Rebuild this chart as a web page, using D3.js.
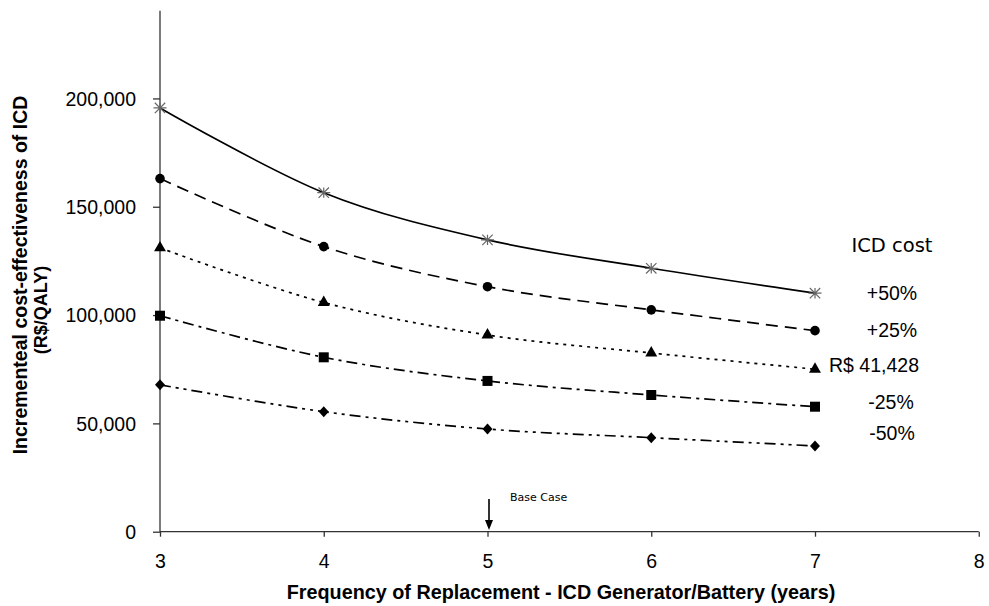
<!DOCTYPE html>
<html>
<head>
<meta charset="utf-8">
<script src="https://cdn.jsdelivr.net/npm/d3@7"></script>
<style>
  html, body { margin: 0; padding: 0; background: #fff; }
  svg { display: block; }
  .tick text { font-family: "Liberation Sans", Arial, sans-serif; font-size: 19.5px; fill: #000; }
</style>
</head>
<body>
<svg id="chart" width="989" height="606"></svg>
<script>
// ---- data ----
const years = [3, 4, 5, 6, 7];
const plus50 = [195600, 156500, 134700, 121600, 110100];
const plus25 = [163000, 131600, 113100, 102400, 92800];
const baseCost = [131000, 105800, 90800, 82500, 75000];
const minus25 = [99700, 80500, 69600, 63100, 57700];
const minus50 = [67800, 55400, 47400, 43400, 39600];
const seriesNames = ["+50%", "+25%", "R$ 41,428", "-25%", "-50%"];
const xTicks = [3, 4, 5, 6, 7, 8];
const yTicks = [0, 50000, 100000, 150000, 200000];
const legendTitle = "ICD cost";
const baseCaseLabel = "Base Case";
const baseCaseYear = 5;

const series = [
  { name: seriesNames[0], values: plus50, dash: null, marker: "asterisk" },
  { name: seriesNames[1], values: plus25, dash: "12,7", marker: "circle" },
  { name: seriesNames[2], values: baseCost, dash: "3,5", marker: "triangle" },
  { name: seriesNames[3], values: minus25, dash: "11,5,3,5", marker: "square" },
  { name: seriesNames[4], values: minus50, dash: "11,5,3,5,3,5", marker: "diamond" }
];

const svg = d3.select("#chart");
const x = d3.scaleLinear().domain([3, 8]).range([160, 978.75]);
const y = d3.scaleLinear().domain([0, 240500]).range([531.7, 10.7]);

// axes
const fmt = d3.format(",");
const yAxis = d3.axisLeft(y).tickValues(yTicks).tickFormat(fmt).tickSize(7).tickPadding(17);
const gy = svg.append("g").attr("transform", "translate(160,0)").call(yAxis);
gy.select(".domain").attr("d", `M0,${y(0)}V${y.range()[1]}`).attr("stroke", "#333").attr("stroke-width", 1.3);
gy.selectAll(".tick line").attr("stroke", "#333").attr("stroke-width", 1.3);
gy.selectAll(".tick text").attr("dy", "0.35em");

const xAxis = d3.axisBottom(x).tickValues(xTicks).tickFormat(d3.format("d")).tickSize(5).tickPadding(17);
const gx = svg.append("g").attr("transform", `translate(0,${y(0)})`).call(xAxis);
gx.select(".domain").attr("d", `M${x(3)},0H${x(8)}`).attr("stroke", "#333").attr("stroke-width", 1.3);
gx.selectAll(".tick line").attr("stroke", "#333").attr("stroke-width", 1.3);

// axis titles
const titleFont = "Liberation Sans, Arial, sans-serif";
svg.append("text")
  .attr("transform", "translate(27,275) rotate(-90)")
  .attr("text-anchor", "middle")
  .style("font-family", titleFont)
  .style("font-weight", "bold").style("font-size", "19.5px")
  .text("Incrementeal cost-effectiveness of ICD");
svg.append("text")
  .attr("transform", "translate(47,310) rotate(-90)")
  .attr("text-anchor", "middle")
  .style("font-family", titleFont)
  .style("font-weight", "bold").style("font-size", "18px")
  .text("(R$/QALY)");
svg.append("text")
  .attr("x", 561).attr("y", 599)
  .attr("text-anchor", "middle")
  .style("font-family", titleFont)
  .style("font-weight", "bold").style("font-size", "19.8px")
  .text("Frequency of Replacement - ICD Generator/Battery (years)");

// lines
const line = d3.line()
  .x((d, i) => x(years[i]))
  .y(d => y(d))
  .curve(d3.curveCardinal.tension(0));

series.forEach(s => {
  svg.append("path")
    .attr("d", line(s.values))
    .attr("fill", "none")
    .attr("stroke", "#000")
    .attr("stroke-width", 1.7)
    .attr("stroke-dasharray", s.dash);
});

// markers
function drawMarker(g, type, cx, cy) {
  if (type === "asterisk") {
    const r = 6.5;
    const p = d3.path();
    p.moveTo(cx - r, cy); p.lineTo(cx + r, cy);
    p.moveTo(cx - r * 0.8, cy - r * 0.8); p.lineTo(cx + r * 0.8, cy + r * 0.8);
    p.moveTo(cx - r * 0.8, cy + r * 0.8); p.lineTo(cx + r * 0.8, cy - r * 0.8);
    p.moveTo(cx, cy - r * 0.8); p.lineTo(cx, cy + r * 0.8);
    g.append("path").attr("d", p.toString()).attr("stroke", "#666").attr("stroke-width", 1.2).attr("fill", "none");
  } else if (type === "circle") {
    g.append("circle").attr("cx", cx).attr("cy", cy).attr("r", 4.8).attr("fill", "#000");
  } else if (type === "triangle") {
    g.append("path").attr("d", d3.symbol(d3.symbolTriangle, 62)()).attr("transform", `translate(${cx},${cy})`).attr("fill", "#000");
  } else if (type === "square") {
    g.append("rect").attr("x", cx - 5).attr("y", cy - 5).attr("width", 10).attr("height", 10).attr("fill", "#000");
  } else if (type === "diamond") {
    g.append("path").attr("d", `M${cx},${cy - 5.5}L${cx + 5},${cy}L${cx},${cy + 5.5}L${cx - 5},${cy}Z`).attr("fill", "#000");
  }
}
const mg = svg.append("g");
series.forEach(s => {
  s.values.forEach((v, i) => drawMarker(mg, s.marker, x(years[i]), y(v)));
});

// labels on right
svg.append("text")
  .attr("x", 892).attr("y", 252)
  .attr("text-anchor", "middle")
  .style("font-family", "DejaVu Sans, Verdana, sans-serif")
  .style("font-size", "19.5px")
  .text(legendTitle);
const labelY = [300, 337, 372, 409, 440];
const labelX = [892, 892, 874, 891, 892];
series.forEach((s, i) => {
  svg.append("text")
    .attr("x", labelX[i]).attr("y", labelY[i])
    .attr("text-anchor", "middle")
    .style("font-family", "Liberation Sans, Arial, sans-serif")
    .style("font-size", "19.5px")
    .text(s.name);
});

// base case annotation
const bx = x(baseCaseYear) + 1.5;
svg.append("text")
  .attr("x", 510).attr("y", 501)
  .style("font-family", "DejaVu Sans, Verdana, sans-serif")
  .style("font-size", "11px")
  .text(baseCaseLabel);
svg.append("line")
  .attr("x1", bx).attr("x2", bx).attr("y1", 499).attr("y2", 522)
  .attr("stroke", "#000").attr("stroke-width", 1.6);
svg.append("path")
  .attr("d", `M${bx - 4},${520}L${bx + 4},${520}L${bx},${530}Z`)
  .attr("fill", "#000");
</script>
</body>
</html>
